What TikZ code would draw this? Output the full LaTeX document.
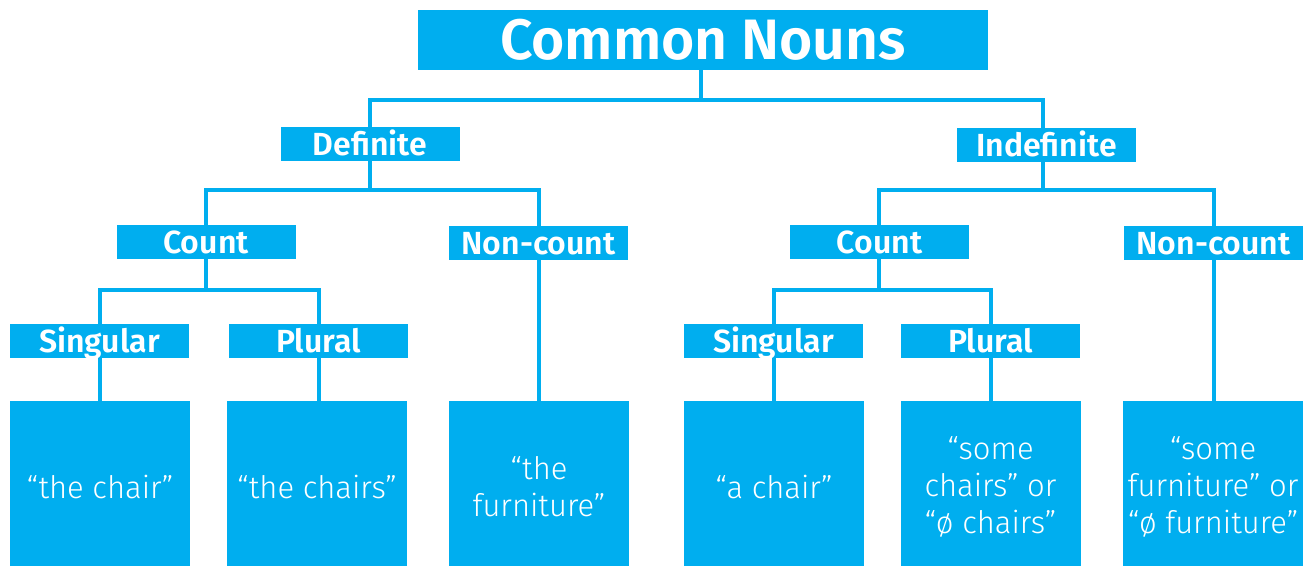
\documentclass[tikz,border=0pt]{standalone}
\usepackage{fontspec}
\setmainfont{Fira Sans}
\newfontfamily\headfont{Fira Sans SemiBold}
\newfontfamily\bodyfont{Fira Sans Light}
\definecolor{cyanblue}{HTML}{00AEEF}
\begin{document}
\begin{tikzpicture}[x=1pt,y=-1pt,
  box/.style={fill=cyanblue,text=white,inner sep=0pt,outer sep=0pt,align=center},
  hbox/.style={box,minimum width=179pt,minimum height=34pt,text height=22pt,text depth=0pt,font=\headfont\fontsize{32}{34}\selectfont},
  leaf/.style={box,minimum width=180pt,minimum height=172pt,font=\bodyfont\fontsize{31}{37}\selectfont},
  conn/.style={draw=cyanblue,line width=4pt}]
\useasboundingbox (0,0) rectangle (1306,565);
\node[box,minimum width=570pt,minimum height=60pt,text height=39pt,text depth=0pt,font=\headfont\fontsize{57}{60}\selectfont] (title) at (703,40) {Common Nouns};
\node[hbox] (def) at (370,144) {Definite};
\node[hbox] (indef) at (1046.5,145) {Indefinite};
\node[hbox] (countL) at (206,242) {Count};
\node[hbox] (noncL) at (538.5,243) {Non-count};
\node[hbox] (countR) at (879.5,242) {Count};
\node[hbox] (noncR) at (1213.5,243) {Non-count};
\node[hbox] (singL) at (99.5,341) {Singular};
\node[hbox] (plurL) at (318.5,341) {Plural};
\node[hbox] (singR) at (773.5,341) {Singular};
\node[hbox] (plurR) at (990.5,341) {Plural};
\node[leaf] (l1) at (100,487) {“the chair”};
\node[leaf] (l2) at (317,487) {“the chairs”};
\node[leaf] (l3) at (539,487) {“the\\furniture”};
\node[leaf] (l4) at (774,487) {“a chair”};
\node[leaf] (l5) at (990.5,487) {“some\\chairs” or\\“ø chairs”};
\node[leaf] (l6) at (1213,487) {“some\\furniture” or\\“ø furniture”};
\coordinate (j0) at (701,100);
\coordinate (j1) at (370,190);
\coordinate (j2) at (1043,190);
\coordinate (j3) at (206,290);
\coordinate (j4) at (879,290);
\begin{scope}[conn]
\draw (title.south -| j0) -- (j0);
\draw (def.north) |- (j0) -| (indef.north -| j2);
\draw (def.south) -- (j1);
\draw (countL.north) |- (j1) -| (noncL.north);
\draw (indef.south -| j2) -- (j2);
\draw (countR.north -| j4) |- (j2) -| (noncR.north);
\draw (countL.south) -- (j3);
\draw (singL.north) |- (j3) -| (plurL.north);
\draw (countR.south -| j4) -- (j4);
\draw (singR.north) |- (j4) -| (plurR.north);
\draw (singL.south) -- (l1.north -| singL.south);
\draw (plurL.south) -- (l2.north -| plurL.south);
\draw (noncL.south) -- (l3.north -| noncL.south);
\draw (singR.south) -- (l4.north -| singR.south);
\draw (plurR.south) -- (l5.north -| plurR.south);
\draw (noncR.south) -- (l6.north -| noncR.south);
\end{scope}
\end{tikzpicture}
\end{document}
